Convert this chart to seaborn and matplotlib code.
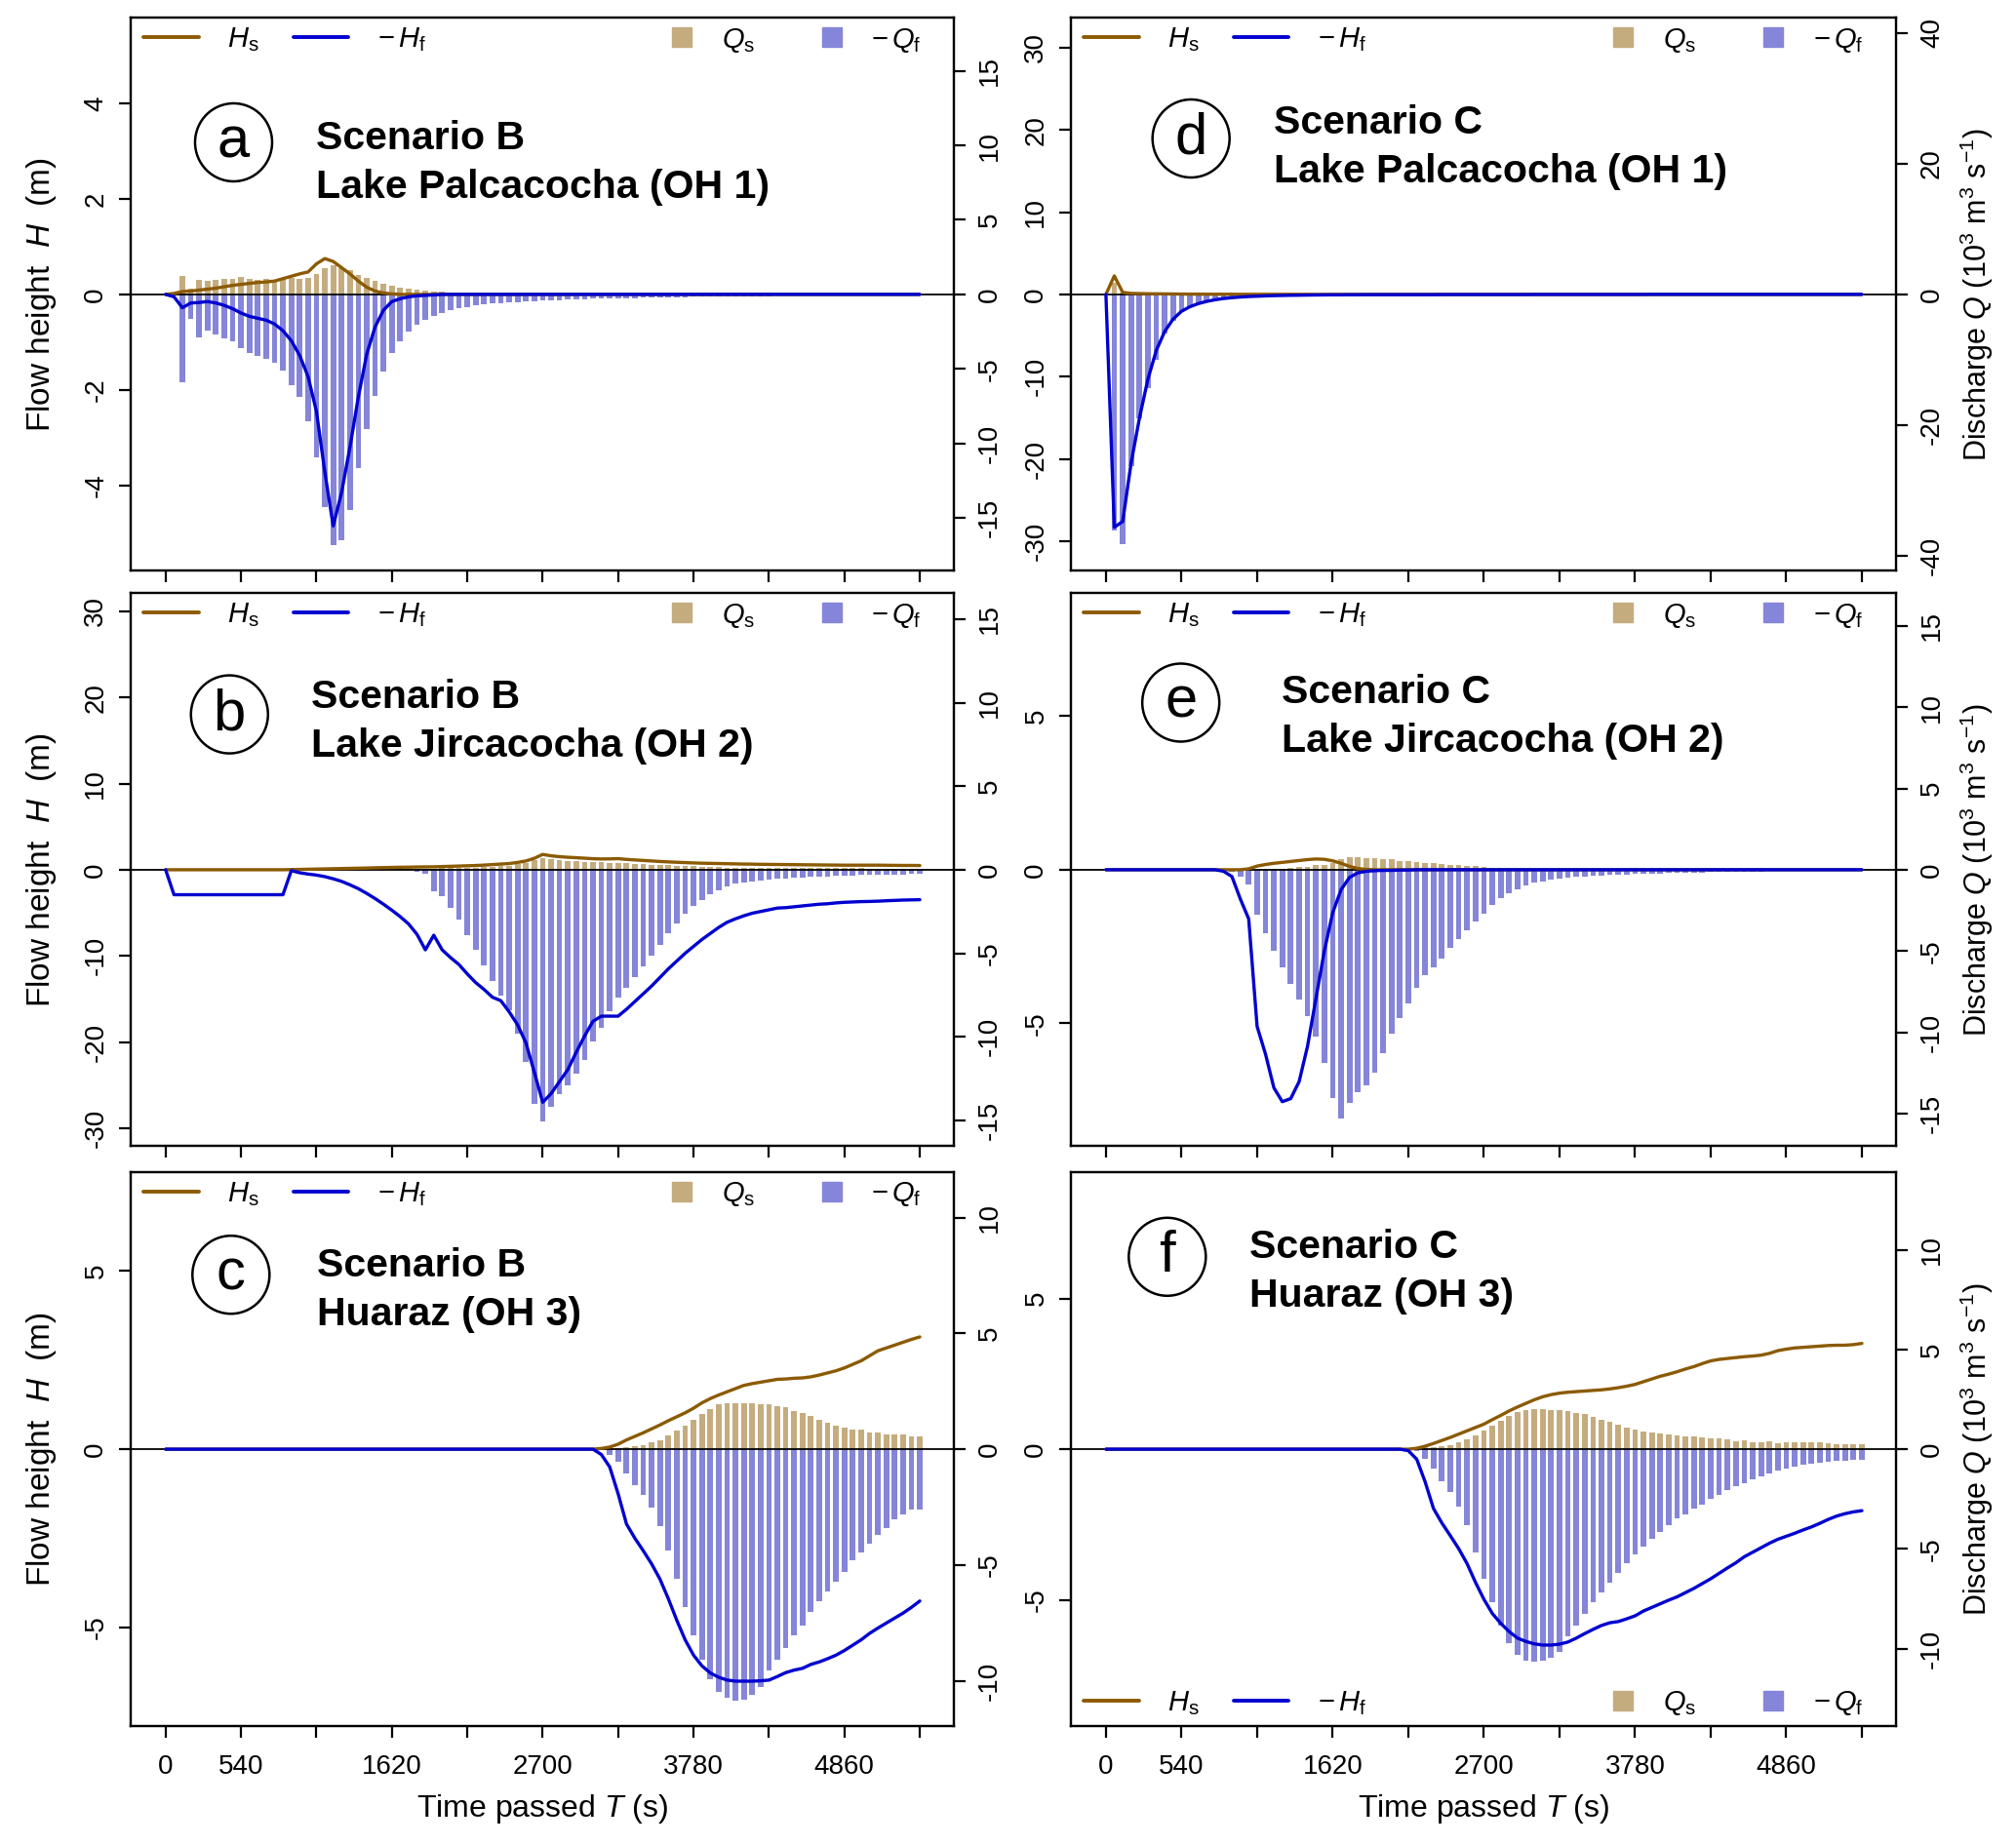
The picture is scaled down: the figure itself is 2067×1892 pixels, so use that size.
import numpy as np
import matplotlib
matplotlib.use("Agg")
import matplotlib.pyplot as plt
from matplotlib.patches import Ellipse
from matplotlib.lines import Line2D
import seaborn as sns

# time axes (s): lines sampled every 60 s from 0, bars every 60 s from 60
t_line = np.arange(0, 5401, 60)
t_bar = np.arange(60, 5401, 60)

# ---------------- panel a: Scenario B, Lake Palcacocha (OH 1)
hs_a = [0, 0.02, 0.06, 0.07, 0.09, 0.11, 0.13, 0.16, 0.19, 0.21,
        0.23, 0.25, 0.26, 0.28, 0.33, 0.38, 0.43, 0.47, 0.64, 0.75,
        0.69, 0.56, 0.43, 0.28, 0.15, 0.07, 0.03, 0.01, 0, 0,
        0, 0, 0, 0, 0, 0, 0, 0, 0, 0,
        0, 0, 0, 0, 0, 0, 0, 0, 0, 0,
        0, 0, 0, 0, 0, 0, 0, 0, 0, 0,
        0, 0, 0, 0, 0, 0, 0, 0, 0, 0,
        0, 0, 0, 0, 0, 0, 0, 0, 0, 0,
        0, 0, 0, 0, 0, 0, 0, 0, 0, 0,
        0]
hf_a = [0, -0.05, -0.28, -0.18, -0.17, -0.15, -0.18, -0.23, -0.30, -0.39,
        -0.46, -0.50, -0.54, -0.62, -0.76, -0.97, -1.28, -1.72, -2.45, -3.72,
        -4.85, -4.15, -3.20, -2.15, -1.25, -0.68, -0.33, -0.15, -0.09, -0.05,
        -0.03, -0.02, -0.01, 0, 0, 0, 0, 0, 0, 0,
        0, 0, 0, 0, 0, 0, 0, 0, 0, 0,
        0, 0, 0, 0, 0, 0, 0, 0, 0, 0,
        0, 0, 0, 0, 0, 0, 0, 0, 0, 0,
        0, 0, 0, 0, 0, 0, 0, 0, 0, 0,
        0, 0, 0, 0, 0, 0, 0, 0, 0, 0,
        0]
qs_a = [0, 1.22, 0.41, 0.96, 0.89, 0.96, 1.02, 1.07, 1.15, 1.02,
        0.98, 1.02, 1.00, 1.02, 1.11, 1.07, 1.13, 1.37, 1.76, 1.98,
        1.79, 1.61, 1.31, 1.09, 0.89, 0.70, 0.59, 0.46, 0.39, 0.33,
        0.26, 0.22, 0.20, 0.15, 0.13, 0.11, 0.09, 0.08, 0.07, 0.06,
        0.05, 0.04, 0.04, 0.03, 0.03, 0.03, 0.02, 0.02, 0.02, 0.02,
        0.02, 0.01, 0.01, 0.01, 0.01, 0.01, 0.01, 0.01, 0.01, 0.01,
        0.01, 0.01, 0.01, 0.01, 0.01, 0, 0, 0, 0, 0,
        0, 0, 0, 0, 0, 0, 0, 0, 0, 0,
        0, 0, 0, 0, 0, 0, 0, 0, 0, 0]
qf_a = [0, -5.88, -1.63, -2.90, -2.46, -2.68, -2.96, -3.18, -3.60, -3.90,
        -4.10, -4.31, -4.60, -5.14, -6.08, -6.86, -8.50, -10.96, -14.30, -16.84,
        -16.47, -14.49, -11.66, -9.06, -6.82, -5.19, -3.92, -3.12, -2.51, -2.03,
        -1.70, -1.44, -1.22, -1.07, -0.94, -0.83, -0.72, -0.68, -0.61, -0.57,
        -0.52, -0.50, -0.46, -0.44, -0.41, -0.39, -0.37, -0.35, -0.33, -0.32,
        -0.30, -0.29, -0.27, -0.26, -0.25, -0.24, -0.23, -0.22, -0.21, -0.20,
        -0.19, -0.18, -0.17, -0.16, -0.15, -0.15, -0.14, -0.13, -0.13, -0.12,
        -0.11, -0.11, -0.10, -0.10, -0.09, -0.09, -0.08, -0.08, -0.08, -0.07,
        -0.07, -0.07, -0.06, -0.06, -0.06, -0.05, -0.05, -0.05, -0.05, -0.04]

# ---------------- panel b: Scenario B, Lake Jircacocha (OH 2)
hs_b = [0, 0, 0, 0, 0, 0, 0, 0, 0, 0,
        0, 0, 0, 0, 0, 0.02, 0.04, 0.06, 0.08, 0.10,
        0.12, 0.14, 0.16, 0.18, 0.20, 0.23, 0.25, 0.27, 0.29, 0.30,
        0.32, 0.33, 0.34, 0.37, 0.40, 0.43, 0.46, 0.49, 0.54, 0.60,
        0.66, 0.72, 0.85, 1.02, 1.33, 1.78, 1.62, 1.52, 1.45, 1.40,
        1.34, 1.28, 1.25, 1.26, 1.29, 1.20, 1.14, 1.08, 1.02, 0.96,
        0.91, 0.87, 0.83, 0.79, 0.76, 0.74, 0.72, 0.70, 0.68, 0.66,
        0.65, 0.63, 0.62, 0.61, 0.60, 0.59, 0.58, 0.57, 0.56, 0.55,
        0.54, 0.53, 0.53, 0.53, 0.53, 0.53, 0.52, 0.51, 0.50, 0.50,
        0.49]
hf_b = [0, -2.9, -2.9, -2.9, -2.9, -2.9, -2.9, -2.9, -2.9, -2.9,
        -2.9, -2.9, -2.9, -2.9, -2.9, -0.10, -0.35, -0.50, -0.62, -0.80,
        -1.05, -1.35, -1.75, -2.20, -2.75, -3.35, -4.00, -4.70, -5.45, -6.30,
        -7.50, -9.30, -7.60, -9.30, -10.2, -11.0, -12.1, -13.1, -13.9, -14.8,
        -15.2, -16.5, -18.0, -20.1, -23.5, -27.0, -26.0, -24.6, -23.2, -21.2,
        -19.3, -17.6, -17.0, -17.0, -17.0, -16.2, -15.3, -14.4, -13.5, -12.5,
        -11.5, -10.6, -9.7, -8.9, -8.1, -7.4, -6.7, -6.1, -5.7, -5.35,
        -5.05, -4.85, -4.65, -4.45, -4.40, -4.30, -4.20, -4.10, -4.00, -3.95,
        -3.85, -3.78, -3.74, -3.70, -3.68, -3.65, -3.60, -3.56, -3.52, -3.50,
        -3.48]
qs_b = [0, 0, 0, 0, 0, 0, 0, 0, 0, 0,
        0, 0, 0, 0, 0, 0, 0, 0, 0, 0,
        0, 0.05, 0.05, 0.05, 0.05, 0.05, 0.05, 0.05, 0.05, 0.06,
        0.07, 0.08, 0.09, 0.10, 0.11, 0.12, 0.14, 0.16, 0.18, 0.21,
        0.25, 0.32, 0.42, 0.55, 0.70, 0.64, 0.58, 0.54, 0.50, 0.47,
        0.45, 0.44, 0.42, 0.40, 0.38, 0.35, 0.33, 0.30, 0.28, 0.26,
        0.24, 0.22, 0.20, 0.18, 0.16, 0.15, 0.14, 0.13, 0.13, 0.12,
        0.12, 0.11, 0.11, 0.11, 0.10, 0.10, 0.10, 0.10, 0.09, 0.09,
        0.09, 0.09, 0.09, 0.08, 0.08, 0.08, 0.08, 0.08, 0.08, 0.08]
qf_b = [0, 0, 0, 0, 0, 0, 0, 0, 0, 0,
        0, 0, 0, 0, 0, 0, 0, 0, 0, 0,
        0, 0, 0, 0, 0, 0, 0, 0, -0.02, -0.10,
        -0.23, -1.31, -1.56, -2.29, -3.00, -3.90, -4.80, -5.72, -6.64, -7.56,
        -8.44, -9.82, -11.52, -14.02, -15.04, -14.20, -13.44, -12.93, -12.23, -11.37,
        -10.27, -9.47, -8.46, -7.68, -7.09, -6.41, -5.78, -5.14, -4.49, -3.81,
        -3.22, -2.66, -2.19, -1.80, -1.46, -1.23, -1.02, -0.84, -0.78, -0.68,
        -0.64, -0.59, -0.55, -0.51, -0.47, -0.45, -0.43, -0.41, -0.39, -0.37,
        -0.35, -0.33, -0.31, -0.31, -0.29, -0.29, -0.27, -0.27, -0.25, -0.25]

# ---------------- panel c: Scenario B, Huaraz (OH 3)
hs_c = [0, 0, 0, 0, 0, 0, 0, 0, 0, 0,
        0, 0, 0, 0, 0, 0, 0, 0, 0, 0,
        0, 0, 0, 0, 0, 0, 0, 0, 0, 0,
        0, 0, 0, 0, 0, 0, 0, 0, 0, 0,
        0, 0, 0, 0, 0, 0, 0, 0, 0, 0,
        0, 0, 0.02, 0.06, 0.14, 0.26, 0.36, 0.46, 0.57, 0.68,
        0.80, 0.91, 1.02, 1.15, 1.30, 1.42, 1.52, 1.61, 1.70, 1.79,
        1.84, 1.88, 1.92, 1.96, 1.97, 1.99, 2.00, 2.03, 2.08, 2.14,
        2.20, 2.28, 2.38, 2.48, 2.62, 2.76, 2.84, 2.92, 3.00, 3.08,
        3.15]
hf_c = [0, 0, 0, 0, 0, 0, 0, 0, 0, 0,
        0, 0, 0, 0, 0, 0, 0, 0, 0, 0,
        0, 0, 0, 0, 0, 0, 0, 0, 0, 0,
        0, 0, 0, 0, 0, 0, 0, 0, 0, 0,
        0, 0, 0, 0, 0, 0, 0, 0, 0, 0,
        0, 0, -0.15, -0.50, -1.25, -2.10, -2.50, -2.85, -3.22, -3.65,
        -4.20, -4.80, -5.35, -5.78, -6.08, -6.28, -6.40, -6.48, -6.51, -6.51,
        -6.51, -6.50, -6.48, -6.38, -6.27, -6.20, -6.15, -6.04, -5.97, -5.88,
        -5.78, -5.65, -5.50, -5.35, -5.17, -5.02, -4.88, -4.74, -4.60, -4.44,
        -4.26]
qs_c = [0, 0, 0, 0, 0, 0, 0, 0, 0, 0,
        0, 0, 0, 0, 0, 0, 0, 0, 0, 0,
        0, 0, 0, 0, 0, 0, 0, 0, 0, 0,
        0, 0, 0, 0, 0, 0, 0, 0, 0, 0,
        0, 0, 0, 0, 0, 0, 0, 0, 0, 0,
        0, 0, 0.01, 0.03, 0.07, 0.14, 0.18, 0.28, 0.39, 0.59,
        0.79, 1.02, 1.26, 1.51, 1.75, 1.94, 1.99, 2.00, 2.00, 1.98,
        1.96, 1.96, 1.87, 1.80, 1.63, 1.56, 1.44, 1.26, 1.12, 1.02,
        0.93, 0.86, 0.84, 0.74, 0.74, 0.65, 0.65, 0.65, 0.56, 0.56]
qf_c = [0, 0, 0, 0, 0, 0, 0, 0, 0, 0,
        0, 0, 0, 0, 0, 0, 0, 0, 0, 0,
        0, 0, 0, 0, 0, 0, 0, 0, 0, 0,
        0, 0, 0, 0, 0, 0, 0, 0, 0, 0,
        0, 0, 0, 0, 0, 0, 0, 0, 0, 0,
        0, 0, -0.24, -0.56, -1.05, -1.57, -1.99, -2.51, -3.32, -4.38,
        -5.61, -6.80, -8.02, -9.07, -9.92, -10.48, -10.75, -10.85, -10.80, -10.60,
        -10.27, -9.57, -9.07, -8.58, -8.02, -7.60, -7.04, -6.55, -6.16, -5.71,
        -5.29, -4.80, -4.45, -4.07, -3.72, -3.39, -3.04, -2.83, -2.62, -2.62]

# ---------------- panel d: Scenario C, Lake Palcacocha (OH 1)
hs_d = [0, 2.25, 0.25, 0.12, 0.10, 0.08, 0.07, 0.06, 0.05, 0.04,
        0.03, 0.03, 0.02, 0.02, 0.02, 0.02, 0.01, 0.01, 0.01, 0.01,
        0.01, 0.01, 0.01, 0.01, 0.01, 0, 0, 0, 0, 0,
        0, 0, 0, 0, 0, 0, 0, 0, 0, 0,
        0, 0, 0, 0, 0, 0, 0, 0, 0, 0,
        0, 0, 0, 0, 0, 0, 0, 0, 0, 0,
        0, 0, 0, 0, 0, 0, 0, 0, 0, 0,
        0, 0, 0, 0, 0, 0, 0, 0, 0, 0,
        0, 0, 0, 0, 0, 0, 0, 0, 0, 0,
        0]
hf_d = [0, -28.3, -27.6, -20.5, -15.0, -10.3, -6.8, -4.5, -3.0, -2.05,
        -1.50, -1.12, -0.85, -0.65, -0.50, -0.40, -0.32, -0.26, -0.22, -0.18,
        -0.15, -0.13, -0.11, -0.10, -0.08, -0.07, -0.06, -0.05, -0.05, -0.04,
        -0.04, -0.03, -0.03, -0.03, -0.03, -0.03, -0.03, -0.03, -0.03, -0.03,
        -0.02, -0.02, -0.02, -0.02, -0.02, -0.02, -0.02, -0.02, -0.02, -0.02,
        -0.02, -0.01, -0.01, -0.01, -0.01, -0.01, -0.01, -0.01, -0.01, -0.01,
        -0.01, -0.01, -0.01, -0.01, -0.01, 0, 0, 0, 0, 0,
        0, 0, 0, 0, 0, 0, 0, 0, 0, 0,
        0, 0, 0, 0, 0, 0, 0, 0, 0, 0,
        0]
qs_d = [1.80, 0.35, 0.15, 0.10, 0.08, 0.06, 0.05, 0.04, 0.03, 0.02,
        0.02, 0.01, 0.01, 0.01, 0.01, 0.01, 0.01, 0.01, 0.01, 0.01,
        0, 0, 0, 0, 0, 0, 0, 0, 0, 0,
        0, 0, 0, 0, 0, 0, 0, 0, 0, 0,
        0, 0, 0, 0, 0, 0, 0, 0, 0, 0,
        0, 0, 0, 0, 0, 0, 0, 0, 0, 0,
        0, 0, 0, 0, 0, 0, 0, 0, 0, 0,
        0, 0, 0, 0, 0, 0, 0, 0, 0, 0,
        0, 0, 0, 0, 0, 0, 0, 0, 0, 0]
qf_d = [-36.1, -38.2, -26.3, -18.9, -14.3, -10.0, -6.0, -4.1, -2.6, -1.8,
        -1.30, -1.00, -0.72, -0.52, -0.38, -0.28, -0.24, -0.20, -0.17, -0.15,
        -0.14, -0.13, -0.12, -0.11, -0.10, -0.09, -0.09, -0.08, -0.08, -0.07,
        -0.07, -0.07, -0.06, -0.06, -0.06, -0.05, -0.05, -0.05, -0.05, -0.04,
        -0.04, -0.04, -0.04, -0.04, -0.04, -0.04, -0.04, -0.04, -0.04, -0.04,
        -0.03, -0.03, -0.03, -0.03, -0.03, -0.03, -0.03, -0.03, -0.03, -0.03,
        -0.03, -0.03, -0.03, -0.03, -0.03, -0.03, -0.03, -0.03, -0.03, -0.03,
        -0.02, -0.02, -0.02, -0.02, -0.02, -0.02, -0.02, -0.02, -0.02, -0.02,
        -0.02, -0.02, -0.02, -0.02, -0.02, -0.02, -0.02, -0.02, -0.02, -0.02]

# ---------------- panel e: Scenario C, Lake Jircacocha (OH 2)
hs_e = [0, 0, 0, 0, 0, 0, 0, 0, 0, 0,
        0, 0, 0, 0, 0, 0, 0, 0.03, 0.12, 0.17,
        0.21, 0.24, 0.27, 0.30, 0.33, 0.35, 0.34, 0.29, 0.21, 0.11,
        0.04, 0.01, 0, 0, 0, 0, 0, 0, 0, 0,
        0, 0, 0, 0, 0, 0, 0, 0, 0, 0,
        0, 0, 0, 0, 0, 0, 0, 0, 0, 0,
        0, 0, 0, 0, 0, 0, 0, 0, 0, 0,
        0, 0, 0, 0, 0, 0, 0, 0, 0, 0,
        0, 0, 0, 0, 0, 0, 0, 0, 0, 0,
        0]
hf_e = [0, 0, 0, 0, 0, 0, 0, 0, 0, 0,
        0, 0, 0, 0, -0.05, -0.22, -0.95, -1.60, -5.10, -6.00,
        -7.10, -7.55, -7.45, -6.90, -5.75, -4.20, -2.65, -1.40, -0.65, -0.25,
        -0.10, -0.05, -0.03, -0.02, -0.02, -0.01, -0.01, 0, 0, 0,
        0, 0, 0, 0, 0, 0, 0, 0, 0, 0,
        0, 0, 0, 0, 0, 0, 0, 0, 0, 0,
        0, 0, 0, 0, 0, 0, 0, 0, 0, 0,
        0, 0, 0, 0, 0, 0, 0, 0, 0, 0,
        0, 0, 0, 0, 0, 0, 0, 0, 0, 0,
        0]
qs_e = [0, 0, 0, 0, 0, 0, 0, 0, 0, 0,
        0, 0, 0, 0, 0, 0, 0, 0, 0, 0.04,
        0.06, 0.10, 0.16, 0.20, 0.28, 0.32, 0.40, 0.68, 0.80, 0.76,
        0.72, 0.72, 0.68, 0.64, 0.56, 0.52, 0.48, 0.44, 0.40, 0.36,
        0.32, 0.28, 0.24, 0.22, 0.18, 0.14, 0.10, 0.06, 0.04, 0.03,
        0.02, 0.01, 0.01, 0.01, 0.01, 0, 0, 0, 0, 0,
        0, 0, 0, 0, 0, 0, 0, 0, 0, 0,
        0, 0, 0, 0, 0, 0, 0, 0, 0, 0,
        0, 0, 0, 0, 0, 0, 0, 0, 0, 0]
qf_e = [0, 0, 0, 0, 0, 0, 0, 0, 0, 0,
        0, 0, 0, 0, -0.15, -0.44, -0.93, -2.78, -3.88, -5.01,
        -6.00, -7.02, -7.99, -9.01, -10.24, -11.87, -14.06, -15.31, -14.31, -13.66,
        -13.26, -12.47, -11.27, -10.10, -9.15, -8.25, -7.26, -6.46, -6.00, -5.47,
        -4.83, -4.27, -3.72, -3.18, -2.68, -2.19, -1.75, -1.43, -1.19, -0.99,
        -0.80, -0.70, -0.60, -0.54, -0.48, -0.44, -0.40, -0.36, -0.34, -0.32,
        -0.30, -0.28, -0.26, -0.24, -0.24, -0.22, -0.20, -0.20, -0.18, -0.16,
        -0.16, -0.14, -0.14, -0.12, -0.12, -0.11, -0.10, -0.10, -0.09, -0.09,
        -0.08, -0.08, -0.07, -0.07, -0.06, -0.06, -0.06, -0.05, -0.05, -0.05]

# ---------------- panel f: Scenario C, Huaraz (OH 3)
hs_f = [0, 0, 0, 0, 0, 0, 0, 0, 0, 0,
        0, 0, 0, 0, 0, 0, 0, 0, 0, 0,
        0, 0, 0, 0, 0, 0, 0, 0, 0, 0,
        0, 0, 0, 0, 0, 0, 0, 0.03, 0.10, 0.19,
        0.29, 0.39, 0.50, 0.61, 0.72, 0.83, 0.98, 1.12, 1.27, 1.40,
        1.52, 1.64, 1.74, 1.81, 1.86, 1.89, 1.91, 1.93, 1.95, 1.97,
        2.00, 2.04, 2.09, 2.15, 2.24, 2.33, 2.42, 2.49, 2.57, 2.66,
        2.74, 2.84, 2.93, 2.98, 3.01, 3.04, 3.07, 3.09, 3.12, 3.18,
        3.27, 3.32, 3.36, 3.38, 3.40, 3.42, 3.44, 3.45, 3.45, 3.47,
        3.51]
hf_f = [0, 0, 0, 0, 0, 0, 0, 0, 0, 0,
        0, 0, 0, 0, 0, 0, 0, 0, 0, 0,
        0, 0, 0, 0, 0, 0, 0, 0, 0, 0,
        0, 0, 0, 0, 0, 0, -0.05, -0.33, -1.08, -1.97,
        -2.45, -2.87, -3.30, -3.80, -4.42, -4.98, -5.45, -5.78, -6.05, -6.27,
        -6.38, -6.46, -6.50, -6.50, -6.47, -6.40, -6.27, -6.12, -5.98, -5.85,
        -5.76, -5.72, -5.63, -5.53, -5.37, -5.25, -5.13, -5.01, -4.90, -4.76,
        -4.62, -4.46, -4.30, -4.12, -3.94, -3.77, -3.57, -3.42, -3.27, -3.12,
        -2.99, -2.89, -2.79, -2.68, -2.58, -2.46, -2.33, -2.22, -2.14, -2.08,
        -2.04]
qs_f = [0, 0, 0, 0, 0, 0, 0, 0, 0, 0,
        0, 0, 0, 0, 0, 0, 0, 0, 0, 0,
        0, 0, 0, 0, 0, 0, 0, 0, 0, 0,
        0, 0, 0, 0, 0, 0, 0.02, 0.08, 0.12, 0.16,
        0.21, 0.34, 0.47, 0.70, 0.95, 1.19, 1.40, 1.65, 1.84, 1.94,
        2.01, 2.01, 1.97, 1.94, 1.89, 1.81, 1.76, 1.60, 1.47, 1.37,
        1.21, 1.08, 0.96, 0.88, 0.83, 0.78, 0.72, 0.67, 0.65, 0.62,
        0.59, 0.55, 0.54, 0.51, 0.39, 0.44, 0.36, 0.33, 0.42, 0.29,
        0.33, 0.33, 0.34, 0.34, 0.34, 0.29, 0.26, 0.26, 0.26, 0.26]
qf_f = [0, 0, 0, 0, 0, 0, 0, 0, 0, 0,
        0, 0, 0, 0, 0, 0, 0, 0, 0, 0,
        0, 0, 0, 0, 0, 0, 0, 0, 0, 0,
        0, 0, 0, 0, 0, 0, -0.10, -0.47, -0.96, -1.61,
        -2.14, -2.87, -3.82, -5.20, -6.51, -7.65, -8.83, -9.72, -10.31, -10.62,
        -10.67, -10.59, -10.46, -10.18, -9.36, -8.84, -8.27, -7.65, -7.16, -6.67,
        -6.18, -5.73, -5.29, -4.88, -4.50, -4.14, -3.82, -3.49, -3.25, -3.00,
        -2.76, -2.51, -2.27, -2.06, -1.86, -1.70, -1.50, -1.37, -1.21, -1.08,
        -0.98, -0.88, -0.80, -0.75, -0.69, -0.64, -0.60, -0.59, -0.55, -0.55]

x_ticks = list(range(0, 5401, 540))
x_labels = ["0", "540", "", "1620", "", "2700", "", "3780", "", "4860", ""]

BROWN = "#8B5A00"
BLUE = "#0000D0"
TAN = "#C5AC7F"
LAV = "#8585D9"

sns.set_theme(style="ticks", rc={
    "axes.edgecolor": "black", "axes.linewidth": 1.6,
    "xtick.color": "black", "ytick.color": "black",
    "xtick.major.size": 8.3, "ytick.major.size": 8.3,
    "xtick.major.width": 1.6, "ytick.major.width": 1.6,
    "xtick.labelsize": 20, "ytick.labelsize": 20,
    "axes.labelsize": 22, "text.color": "black", "axes.labelcolor": "black",
})
plt.rcParams["font.family"] = ["Liberation Sans", "DejaVu Sans"]
plt.rcParams["mathtext.fontset"] = "custom"
plt.rcParams["mathtext.rm"] = "Liberation Sans"
plt.rcParams["mathtext.it"] = "Liberation Sans:italic"
plt.rcParams["axes.unicode_minus"] = False

W, H = 2067, 1892
col_x = [(134, 844), (1098, 846)]
row_y = [(18.4, 567), (608.4, 567), (1201.8, 568.6)]

panels = [
    dict(letter="a", col=0, row=0, scen="Scenario B", site="Lake Palcacocha (OH 1)",
         hs=hs_a, hf=hf_a, qs=qs_a, qf=qf_a, hlim=5.79, qlim=18.55,
         hticks=[-4, -2, 0, 2, 4], qticks=[-15, -10, -5, 0, 5, 10, 15],
         circ=(0.125, 0.775), tx=0.2257, ty=(0.762, 0.674), leg_y=0.960),
    dict(letter="b", col=0, row=1, scen="Scenario B", site="Lake Jircacocha (OH 2)",
         hs=hs_b, hf=hf_b, qs=qs_b, qf=qf_b, hlim=32.1, qlim=16.55,
         hticks=[-30, -20, -10, 0, 10, 20, 30], qticks=[-15, -10, -5, 0, 5, 10, 15],
         circ=(0.120, 0.781), tx=0.219, ty=(0.793, 0.705), leg_y=0.960),
    dict(letter="c", col=0, row=2, scen="Scenario B", site="Huaraz (OH 3)",
         hs=hs_c, hf=hf_c, qs=qs_c, qf=qf_c, hlim=7.78, qlim=11.97,
         hticks=[-5, 0, 5], qticks=[-10, -5, 0, 5, 10],
         circ=(0.1218, 0.8146), tx=0.2265, ty=(0.8108, 0.7228), leg_y=0.960),
    dict(letter="d", col=1, row=0, scen="Scenario C", site="Lake Palcacocha (OH 1)",
         hs=hs_d, hf=hf_d, qs=qs_d, qf=qf_d, hlim=33.6, qlim=42.3,
         hticks=[-30, -20, -10, 0, 10, 20, 30], qticks=[-40, -20, 0, 20, 40],
         circ=(0.1456, 0.782), tx=0.246, ty=(0.791, 0.703), leg_y=0.960),
    dict(letter="e", col=1, row=1, scen="Scenario C", site="Lake Jircacocha (OH 2)",
         hs=hs_e, hf=hf_e, qs=qs_e, qf=qf_e, hlim=9.0, qlim=17.0,
         hticks=[-5, 0, 5], qticks=[-15, -10, -5, 0, 5, 10, 15],
         circ=(0.1332, 0.8023), tx=0.2556, ty=(0.8016, 0.714), leg_y=0.960),
    dict(letter="f", col=1, row=2, scen="Scenario C", site="Huaraz (OH 3)",
         hs=hs_f, hf=hf_f, qs=qs_f, qf=qf_f, hlim=9.2, qlim=13.9,
         hticks=[-5, 0, 5], qticks=[-10, -5, 0, 5, 10],
         circ=(0.1168, 0.847), tx=0.2165, ty=(0.8442, 0.7571), leg_y=0.0415),
]

fig = plt.figure(figsize=(W / 100, H / 100), dpi=100)

for p in panels:
    x0, wpx = col_x[p["col"]]
    y0, hpx = row_y[p["row"]]
    rect = [x0 / W, 1 - (y0 + hpx) / H, wpx / W, hpx / H]

    # discharge bars on the primary axis (ticks on the right)
    ax = fig.add_axes(rect)
    sns.barplot(x=t_bar, y=p["qs"], native_scale=True, orient="x", width=0.67,
                color=TAN, saturation=1, errorbar=None, linewidth=0, ax=ax)
    sns.barplot(x=t_bar, y=p["qf"], native_scale=True, orient="x", width=0.67,
                color=LAV, saturation=1, errorbar=None, linewidth=0, ax=ax)

    # flow heights on the twin axis (ticks on the left)
    axh = ax.twinx()
    axh.axhline(0, color="black", lw=1.3, zorder=1)
    sns.lineplot(x=t_line, y=p["hs"], color=BROWN, lw=2.4, errorbar=None, ax=axh, zorder=3)
    sns.lineplot(x=t_line, y=p["hf"], color=BLUE, lw=2.4, errorbar=None, ax=axh, zorder=3)

    ax.set_xlim(-250, 5644)
    ax.set_ylim(-p["qlim"], p["qlim"])
    axh.set_ylim(-p["hlim"], p["hlim"])

    ax.yaxis.tick_right()
    ax.yaxis.set_label_position("right")
    axh.yaxis.tick_left()
    axh.yaxis.set_label_position("left")

    ax.set_yticks(p["qticks"])
    ax.set_yticklabels([str(v) for v in p["qticks"]], rotation=90, va="center")
    axh.set_yticks(p["hticks"])
    axh.set_yticklabels([str(v) for v in p["hticks"]], rotation=90, va="center")
    ax.tick_params(axis="y", pad=9)
    axh.tick_params(axis="y", pad=8)

    ax.set_xticks(x_ticks)
    ax.set_xlabel("")
    ax.set_ylabel("")
    axh.set_ylabel("")
    if p["row"] == 2:
        ax.set_xticklabels(x_labels)
        ax.tick_params(axis="x", pad=12)
        ax.set_xlabel(r"Time passed $T$ (s)", fontsize=23, labelpad=10)
    else:
        ax.set_xticklabels([])
    if p["col"] == 0:
        axh.set_ylabel(r"Flow height  $H$  (m)", fontsize=24, labelpad=18)
    else:
        ax.set_ylabel(r"Discharge $Q$ (10$^3$ m$^3$ s$^{-1}$)", fontsize=22, labelpad=10)

    for a in (ax, axh):
        for s in a.spines.values():
            s.set_linewidth(1.6)
            s.set_color("black")

    # legends
    lh = [Line2D([], [], color=BROWN, lw=2.8), Line2D([], [], color=BLUE, lw=2.8)]
    leg1 = axh.legend(lh, [r"$H_\mathrm{s}$", r"$-\,H_\mathrm{f}$"], loc="center left",
                      bbox_to_anchor=(0.0154, p["leg_y"]), ncol=2, frameon=False,
                      fontsize=21, handlelength=1.95, handletextpad=1.0,
                      columnspacing=1.2, borderaxespad=0, borderpad=0)
    axh.add_artist(leg1)
    bh = [Line2D([], [], marker="s", ls="none", markersize=15, color=TAN),
          Line2D([], [], marker="s", ls="none", markersize=15, color=LAV)]
    axh.legend(bh, [r"$Q_\mathrm{s}$", r"$-\,Q_\mathrm{f}$"], loc="center left",
               bbox_to_anchor=(0.652, p["leg_y"]), ncol=2, frameon=False,
               fontsize=21, handlelength=1.0, handletextpad=0.9,
               columnspacing=2.2, borderaxespad=0, borderpad=0)

    # panel letter in a circle and the panel title
    cx, cy = p["circ"]
    axh.add_patch(Ellipse((cx, cy), width=79 / wpx, height=80 / hpx,
                          transform=axh.transAxes, fill=False, lw=1.8,
                          ec="black", zorder=5))
    axh.text(cx, cy, p["letter"], transform=axh.transAxes, ha="center",
             va="center", fontsize=43)
    axh.text(p["tx"], p["ty"][0], p["scen"], transform=axh.transAxes,
             ha="left", va="baseline", fontsize=29.5, fontweight="bold")
    axh.text(p["tx"], p["ty"][1], p["site"], transform=axh.transAxes,
             ha="left", va="baseline", fontsize=29.5, fontweight="bold")

fig.savefig("out.png", dpi=100)
